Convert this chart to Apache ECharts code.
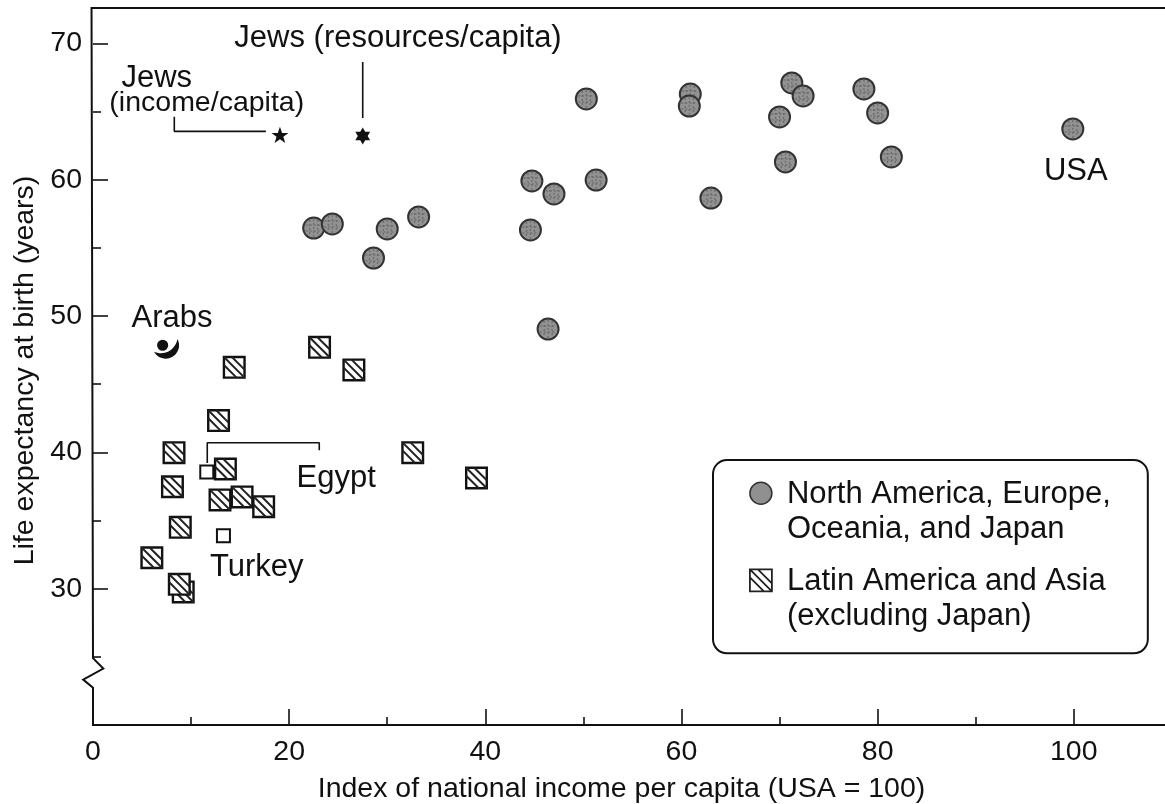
<!DOCTYPE html>
<html>
<head>
<meta charset="utf-8">
<title>Life expectancy and national income</title>
<script src="https://cdn.jsdelivr.net/npm/echarts@6/dist/echarts.min.js"></script>
<style>
html, body { margin: 0; padding: 0; background: #fff; }
#chart { width: 1165px; height: 804px; }
</style>
</head>
<body>
<div id="chart"></div>
<script>
// North America, Europe, Oceania, Japan
const northIncome = [22.5, 24.4, 30.0, 33.2, 28.6, 44.75, 44.6, 47.0, 51.3, 50.3, 46.4, 60.9, 60.8, 63.0, 70.0, 70.6, 71.25, 72.4, 78.6, 80.0, 81.4, 99.9];
const northLife = [56.46, 56.76, 56.39, 57.27, 54.26, 59.91, 56.32, 58.96, 59.98, 65.93, 49.05, 66.29, 65.41, 58.66, 64.61, 61.31, 67.1, 66.15, 66.66, 64.9, 61.67, 63.73];
// Latin America and Asia
const southIncome = [23.1, 14.4, 26.6, 12.8, 8.26, 13.5, 8.1, 12.95, 15.2, 17.4, 8.9, 6.0, 9.2, 8.8, 32.6, 39.1];
const southLife = [47.71, 46.24, 46.05, 42.33, 39.98, 38.78, 37.48, 36.51, 36.73, 36.02, 34.5, 32.27, 29.76, 30.32, 39.98, 38.12];
// Egypt, Turkey (plain small squares)
const plainIncome = [11.6, 13.3];
const plainLife = [38.56, 33.89];
// special points
const jewsIncomePoint = [19.06, 63.29];
const jewsResourcesPoint = [27.5, 63.21];
const arabsPoint = [7.5, 47.6];

const xTicks = [0, 20, 40, 60, 80, 100];
const xMinorTicks = [10, 30, 50, 70, 90];
const yTicks = [30, 40, 50, 60, 70];
const yMinorTicks = [25, 35, 45, 55, 65];
const xMax = 109.3;
const yMin = 20;
const yMax = 72.6;

const northName = "North America, Europe,\nOceania, and Japan";
const southName = "Latin America and Asia\n(excluding Japan)";

// text notes
const noteText = ["Jews (resources/capita)", "Jews", "(income/capita)", "Arabs", "Egypt", "Turkey", "USA"];
const noteX = [31.1, 6.5, 11.6, 8.05, 24.8, 16.7, 100.2];
const noteY = [70.37, 67.42, 65.6, 49.8, 38.1, 31.55, 60.6];

// leader lines
const jewsIncomeLeader = [[8.29, 64.63], [8.29, 63.55], [17.63, 63.55]];
const jewsResourcesLeader = [[27.5, 68.64], [27.5, 64.53]];
const egyptLeader = [[11.65, 39.22], [11.65, 40.71], [23.07, 40.71], [23.07, 40.15]];
// axis frame with the break on the y axis
const axisFrame = [[xMax, yMax], [-0.15, yMax], [0, 24.9], [1.05, 24.14], [-1, 23.33], [0, 22.74], [0, yMin], [xMax, yMin]];

const ink = "#111";
const font = "Liberation Sans";
const tickFontSize = 28.5;
const noteFontSize = 31;

function zip(a, b) {
  return a.map((v, i) => [v, b[i]]);
}

function renderCircle(params, api) {
  const p = api.coord([api.value(0), api.value(1)]);
  const r = 10.5;
  const line = (x1, y1, x2, y2) => ({
    type: "line",
    shape: { x1: p[0] + x1, y1: p[1] + y1, x2: p[0] + x2, y2: p[1] + y2 },
    style: { stroke: "#6a6a6a", lineWidth: 1.2, lineDash: [2, 2] }
  });
  return {
    type: "group",
    children: [
      { type: "circle", shape: { cx: p[0], cy: p[1], r: r }, style: { fill: "#929292", stroke: "#333", lineWidth: 2 } },
      line(-4, -8, -4, 8), line(0, -9, 0, 9), line(4, -8, 4, 8),
      line(-8, -3, 8, -3), line(-8, 3, 8, 3)
    ]
  };
}

function renderHatched(params, api) {
  const p = api.coord([api.value(0), api.value(1)]);
  const s = 10.3;
  const k = 8;
  const line = (x1, y1, x2, y2) => ({
    type: "line",
    shape: { x1: p[0] + x1, y1: p[1] + y1, x2: p[0] + x2, y2: p[1] + y2 },
    style: { stroke: "#222", lineWidth: 2 }
  });
  return {
    type: "group",
    children: [
      { type: "rect", shape: { x: p[0] - s, y: p[1] - s, width: 2 * s, height: 2 * s }, style: { fill: "#fff", stroke: "#111", lineWidth: 2.4 } },
      line(-s, -s, s, s),
      line(-s + k, -s, s, s - k),
      line(-s, -s + k, s - k, s)
    ]
  };
}

// 坐标轴外框（含 y 轴折断）
function renderFrame(params, api) {
  return {
    type: "polyline",
    shape: { points: axisFrame.map(d => api.coord(d)) },
    style: { fill: "none", stroke: ink, lineWidth: 2 }
  };
}

function leader(points) {
  return {
    type: "line",
    data: points,
    symbol: "none",
    silent: true,
    lineStyle: { color: ink, width: 1.6 }
  };
}

const starPath = "path://M0 -10L2.4 -3.2L9.5 -3.1L3.8 1.2L5.9 8.1L0 4L-5.9 8.1L-3.8 1.2L-9.5 -3.1L-2.4 -3.2Z";
const hexagramPath = "path://M0 -10L2.9 -5H8.7L5.8 0L8.7 5H2.9L0 10L-2.9 5H-8.7L-5.8 0L-8.7 -5H-2.9Z";
const crescentPath = "path://M-11 2.7A11.5 11.5 0 1 0 10 -8.7A15 15 0 0 1 -11 2.7ZM-8.3 -3a5 5 0 1 0 10 0a5 5 0 1 0 -10 0Z";

const option = {
  backgroundColor: "#fff",
  animation: false,
  textStyle: { fontFamily: font, color: ink },
  grid: { left: 93, right: 0, top: 8, bottom: 79, outerBoundsMode: "none" },
  legend: {
    left: 713,
    top: 460,
    orient: "vertical",
    selectedMode: false,
    padding: [16.5, 37, 18.5, 26],
    itemGap: 15,
    itemWidth: 42,
    itemHeight: 70,
    borderColor: ink,
    borderWidth: 2,
    borderRadius: 14,
    textStyle: { fontFamily: font, fontSize: noteFontSize, lineHeight: 35, color: ink },
    data: [
      {
        name: northName,
        icon: "path://M-10 0L-10 0M32 70L32 70M0 16A11 11 0 1 0 22 16A11 11 0 1 0 0 16Z",
        itemStyle: { color: "#909090", borderColor: "#333", borderWidth: 1.5 }
      },
      {
        name: southName,
        icon: "path://M-10 0L-10 0M32 70L32 70M0 5.5H22V27.5H0ZM0 5.5L22 27.5M8 5.5L22 19.5M0 13.5L14 27.5",
        itemStyle: { color: "transparent", borderColor: "#222", borderWidth: 1.8 }
      }
    ]
  },
  xAxis: [
    {
      type: "value",
      position: "bottom",
      min: 0,
      max: xMax,
      splitLine: { show: false },
      axisLine: { show: false },
      axisTick: { inside: true, length: 16, customValues: xTicks, lineStyle: { color: ink, width: 1.6 } },
      axisLabel: { customValues: xTicks, margin: 13, fontSize: tickFontSize, color: ink, fontFamily: font },
      name: "Index of national income per capita (USA = 100)",
      nameLocation: "middle",
      nameGap: 50,
      nameTextStyle: { fontSize: tickFontSize, color: ink, fontFamily: font, padding: [0, 15, 0, 0] }
    },
    {
      // 次刻度
      type: "value",
      position: "bottom",
      min: 0,
      max: xMax,
      splitLine: { show: false },
      axisLine: { show: false },
      axisLabel: { show: false },
      axisTick: { inside: true, length: 8, customValues: xMinorTicks, lineStyle: { color: ink, width: 1.6 } }
    }
  ],
  yAxis: [
    {
      type: "value",
      position: "left",
      min: yMin,
      max: yMax,
      splitLine: { show: false },
      axisLine: { show: false },
      axisTick: { inside: true, length: 15, customValues: yTicks, lineStyle: { color: ink, width: 1.6 } },
      axisLabel: { customValues: yTicks, margin: 11, fontSize: tickFontSize, color: ink, fontFamily: font, padding: [4, 0, 0, 0] },
      name: "Life expectancy at birth (years)",
      nameLocation: "middle",
      nameGap: 51,
      nameTextStyle: { fontSize: tickFontSize, color: ink, fontFamily: font, padding: [0, 8, 0, 0] }
    },
    {
      type: "value",
      position: "left",
      min: yMin,
      max: yMax,
      splitLine: { show: false },
      axisLine: { show: false },
      axisLabel: { show: false },
      axisTick: { inside: true, length: 8, customValues: yMinorTicks, lineStyle: { color: ink, width: 1.6 } }
    }
  ],
  series: [
    {
      type: "custom",
      silent: true,
      renderItem: renderFrame,
      data: [[0, yMin]]
    },
    leader(jewsIncomeLeader),
    leader(jewsResourcesLeader),
    leader(egyptLeader),
    {
      type: "scatter",
      data: zip(plainIncome, plainLife),
      symbol: "rect",
      symbolSize: 13,
      itemStyle: { color: "#fff", borderColor: ink, borderWidth: 2, opacity: 1 }
    },
    {
      name: northName,
      type: "custom",
      renderItem: renderCircle,
      data: zip(northIncome, northLife),
      itemStyle: { color: "#909090" }
    },
    {
      name: southName,
      type: "custom",
      renderItem: renderHatched,
      data: zip(southIncome, southLife),
      itemStyle: { color: "#222" }
    },
    {
      type: "scatter",
      data: [jewsIncomePoint],
      symbol: starPath,
      symbolSize: 17,
      symbolKeepAspect: true,
      itemStyle: { color: "#111", opacity: 1 }
    },
    {
      type: "scatter",
      data: [jewsResourcesPoint],
      symbol: hexagramPath,
      symbolSize: 17,
      symbolKeepAspect: true,
      itemStyle: { color: "#111", opacity: 1 }
    },
    {
      type: "scatter",
      data: [arabsPoint],
      symbol: crescentPath,
      symbolSize: 25,
      symbolKeepAspect: true,
      itemStyle: { color: "#111", opacity: 1 }
    },
    {
      type: "scatter",
      silent: true,
      symbolSize: 0,
      itemStyle: { opacity: 1 },
      data: noteText.map((t, i) => ({
        value: [noteX[i], noteY[i]],
        label: { formatter: t, color: ink, fontFamily: font, fontSize: t === "(income/capita)" ? tickFontSize : noteFontSize }
      })),
      label: { show: true, position: "inside" }
    }
  ]
};

const chartObj = echarts.init(document.getElementById("chart"));
chartObj.setOption(option);
</script>
</body>
</html>
